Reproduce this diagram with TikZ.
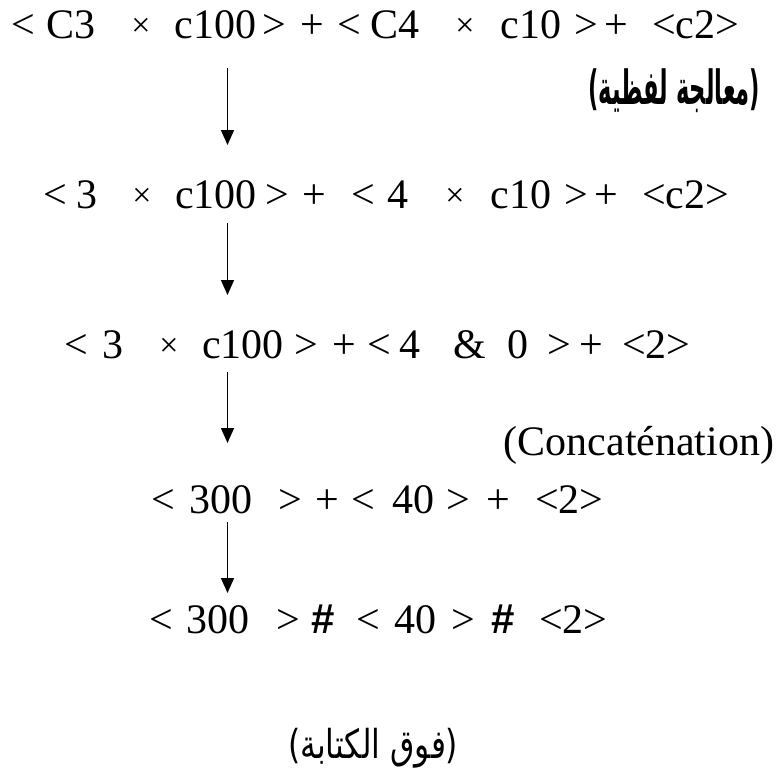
\documentclass[tikz,border=0pt]{standalone}
\usepackage{fontspec}
\setmainfont{Liberation Serif}
\newfontfamily\arabicfont[Script=Arabic]{DejaVu Sans}
\newfontfamily\parenfont{DejaVu Sans}
\newfontfamily\hashfont{Liberation Sans}
\TeXXeTstate=1
\usetikzlibrary{arrows.meta}
\newcommand{\tk}[2]{\rlap{\hspace*{#1pt}#2}}
\newcommand{\tx}[1]{\rlap{\hspace*{#1pt}\raisebox{2pt}{\fontsize{34}{40}\selectfont ×}}}
\newcommand{\hs}[1]{\rlap{\hspace*{#1pt}{\hashfont\bfseries\#}}}
\tikzset{
  txt/.style={anchor=base west, inner sep=0pt, font=\fontsize{42}{50}\selectfont},
  arr/.style={line width=1.4pt, -{Triangle[length=15pt,width=13pt]}},
  arabox/.style={anchor=north west, inner sep=0pt}
}
\begin{document}
\begin{tikzpicture}[x=1pt,y=-1pt]
\useasboundingbox[fill=white] (0,0) rectangle (777,771);
% line 1
\node[txt] (l1) at (0,38) {\tk{10.5}{<}\tk{45.5}{C3}\tx{130.7}\tk{174}{c100}\tk{261.5}{>}\tk{299.5}{+}\tk{336.5}{<}\tk{369.5}{C4}\tx{454.7}\tk{500}{c10}\tk{573.5}{>}\tk{603.5}{+}\tk{651.5}{<c2>}};
\node[arabox] (ar1) at (588,68) {\resizebox*{172pt}{44pt}{\bfseries{\parenfont(}{\arabicfont\beginR معالجة لفظية\endR}{\parenfont)}}};
% line 2
\node[txt] (l2) at (0,208) {\tk{42.5}{<}\tk{75.5}{3}\tx{131.7}\tk{174.5}{c100}\tk{264.5}{>}\tk{301.5}{+}\tk{350.5}{<}\tk{386.5}{4}\tx{444.7}\tk{490}{c10}\tk{563.5}{>}\tk{593.5}{+}\tk{641.5}{<c2>}};
% line 3
\node[txt] (l3) at (0,358) {\tk{63.5}{<}\tk{101.5}{3}\tx{158.7}\tk{201.5}{c100}\tk{293.5}{>}\tk{331.5}{+}\tk{366.5}{<}\tk{398.5}{4}\tk{453}{\&}\tk{506.5}{0}\tk{546.5}{>}\tk{578.5}{+}\tk{621.5}{<2>}};
% concat
\node[txt] (cc) at (503.5,455) {(Concaténation)};
% line 4
\node[txt] (l4) at (0,513) {\tk{150.5}{<}\tk{188.5}{300}\tk{277.5}{>}\tk{314.5}{+}\tk{350.5}{<}\tk{391.5}{40}\tk{445.5}{>}\tk{485.5}{+}\tk{534.5}{<2>}};
% line 5
\node[txt] (l5) at (0,633) {\tk{148.5}{<}\tk{185.5}{300}\tk{275.5}{>}\hs{311}\tk{355.5}{<}\tk{393.5}{40}\tk{450.5}{>}\hs{491}\tk{538.5}{<2>}};
\node[arabox] (ar2) at (288,728) {\resizebox*{170pt}{40pt}{{\parenfont(}{\arabicfont\beginR فوق الكتابة\endR}{\parenfont)}}};
% arrows
\coordinate (a1s) at (227.5,68);  \coordinate (a1e) at (227.5,145);
\coordinate (a2s) at (227.5,223); \coordinate (a2e) at (227.5,295);
\coordinate (a3s) at (227.5,372); \coordinate (a3e) at (227.5,443);
\coordinate (a4s) at (227.5,522); \coordinate (a4e) at (227.5,593);
\draw[arr] (a1s) -- (a1e);
\draw[arr] (a2s) -- (a2e);
\draw[arr] (a3s) -- (a3e);
\draw[arr] (a4s) -- (a4e);
\end{tikzpicture}
\end{document}
